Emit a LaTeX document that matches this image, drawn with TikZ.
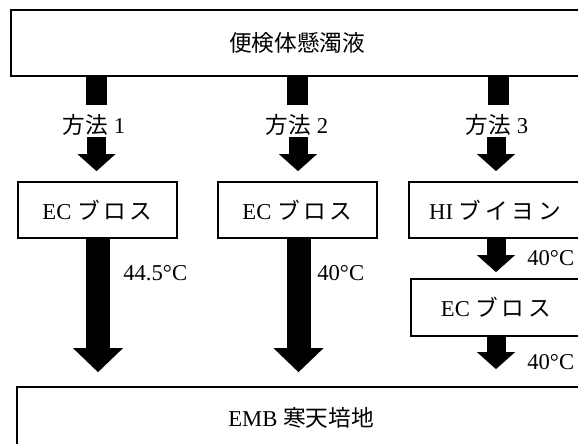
\documentclass[tikz,border=0pt]{standalone}
\usepackage{fontspec}
\setmainfont{Liberation Serif}
\newfontfamily\jpf{Noto Sans CJK JP}
\usetikzlibrary{arrows.meta}
\begin{document}
\begin{tikzpicture}[x=0.75pt,y=-0.75pt,
  txt/.style={font=\fontsize{17}{20}\selectfont},
  boxst/.style={draw, line width=1.3pt, rectangle, inner sep=0pt, txt},
  lbl/.style={inner sep=0pt, txt},
  bar/.style={line width=15.75pt},
  thinarr/.style={line width=14.25pt, -{Triangle[width=28.5pt, length=12.75pt, line width=0pt]}},
  fatarr/.style={line width=18pt, -{Triangle[width=37.5pt, length=18pt, line width=0pt]}}
]
\useasboundingbox (0,0) rectangle (578,443);
\clip (0,0) rectangle (578,443);

% boxes
\node[boxst, minimum width=429pt, minimum height=49.5pt] (src) at (297,43) {\jpf 便検体懸濁液};
\node[boxst, minimum width=119.25pt, minimum height=42pt] (ec1) at (97.5,210) {EC {\jpf ブ\,ロ\,ス}};
\node[boxst, minimum width=119.25pt, minimum height=42pt] (ec2) at (297.5,210) {EC {\jpf ブ\,ロ\,ス}};
\node[boxst, minimum width=129pt, minimum height=42pt] (hi) at (495,210) {HI {\jpf ブ\,イ\,ヨ\,ン}};
\node[boxst, minimum width=127.5pt, minimum height=42.75pt] (ec3) at (496,307.5) {EC {\jpf ブ\,ロ\,ス}};
\node[boxst, minimum width=426pt, minimum height=46.5pt] (emb) at (301,418) {EMB {\jpf 寒天培地}};

% method labels
\node[lbl] (m1) at (94,125) {{\jpf 方法} 1};
\node[lbl] (m2) at (297,125) {{\jpf 方法} 2};
\node[lbl] (m3) at (497,125) {{\jpf 方法} 3};

% end points of bars and starts of arrows
\coordinate (b1) at (96.5,105);
\coordinate (b2) at (297.5,105);
\coordinate (b3) at (498,105);
\coordinate (a1) at (96.5,137);
\coordinate (a2) at (298,137);
\coordinate (a3) at (496,137);
\coordinate (f1) at (98,0);
\coordinate (f2) at (298.5,0);
\coordinate (f3) at (496,0);

% bars from the top box
\draw[bar] (src.south -| b1) -- (b1);
\draw[bar] (src.south -| b2) -- (b2);
\draw[bar] (src.south -| b3) -- (b3);

% arrows under the method labels
\draw[thinarr, shorten >=7.5pt] (a1) -- (ec1.north -| a1);
\draw[thinarr, shorten >=7.5pt] (a2) -- (ec2.north -| a2);
\draw[thinarr, shorten >=7.5pt] (a3) -- (hi.north -| a3);

% long arrows
\draw[fatarr, shorten >=10.5pt] (ec1.south -| f1) -- (emb.north -| f1);
\draw[fatarr, shorten >=10.5pt] (ec2.south -| f2) -- (emb.north -| f2);

% method 3 chain
\draw[thinarr, shorten >=4.5pt] (hi.south -| f3) -- (ec3.north -| f3);
\draw[thinarr, shorten >=12.75pt] (ec3.south -| f3) -- (emb.north -| f3);

% temperature labels
\node[lbl, anchor=west] (t1) at (123,273) {44.5°C};
\node[lbl, anchor=west] (t2) at (317,273) {40°C};
\node[lbl, anchor=west] (t3) at (527,258) {40°C};
\node[lbl, anchor=west] (t4) at (527,362) {40°C};
\end{tikzpicture}
\end{document}
